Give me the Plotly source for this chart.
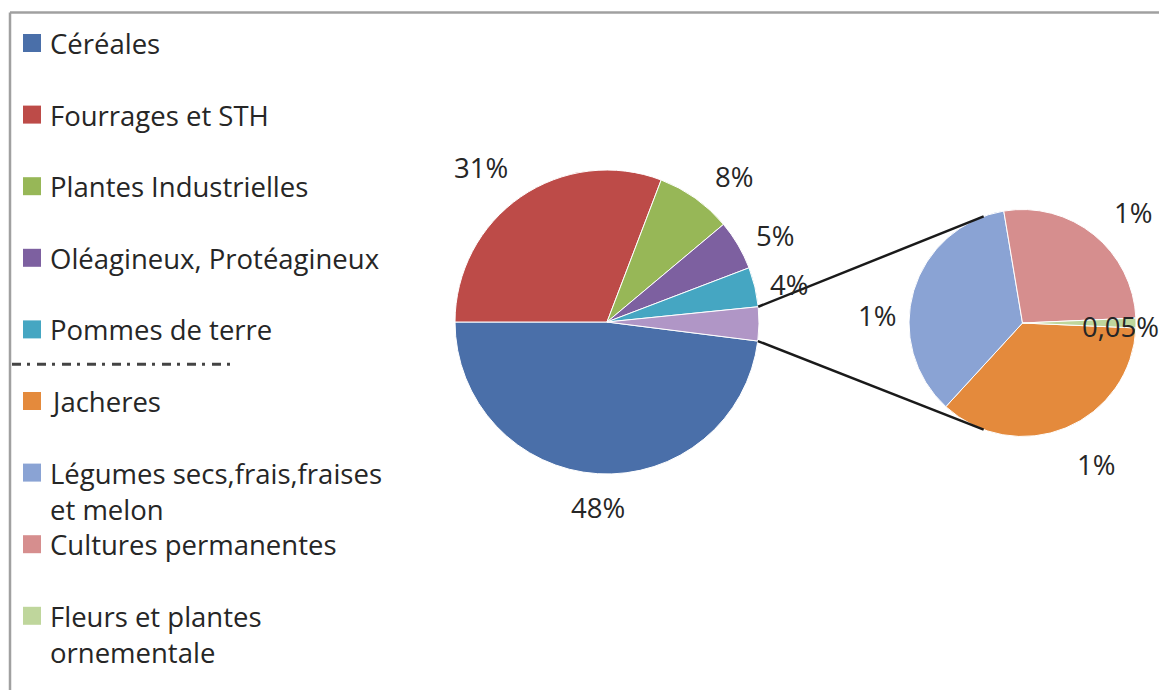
import math
import plotly.graph_objects as go

W, H = 1159, 690

# ---------------- data ----------------
main_labels = ["Céréales", "Fourrages et STH", "Plantes Industrielles",
               "Oléagineux, Protéagineux", "Pommes de terre"]
main_values = [48.0, 30.8, 8.1, 5.3, 4.2]
main_text = ["48%", "31%", "8%", "5%", "4%"]

sub_labels = ["Jacheres", "Légumes secs,frais,fraises<br>et melon",
              "Cultures permanentes", "Fleurs et plantes<br>ornementale"]
sub_values = [1.30, 1.28, 0.97, 0.05]
sub_text = ["1%", "1%", "1%", "0,05%"]
other_label = "Autres"

# ---------------- styles ----------------
main_colors = ["#4a6fa9", "#bd4b48", "#97b757", "#7d60a0", "#45a6c2"]
other_color = "#b096c6"
sub_colors = ["#e48a3c", "#8aa3d4", "#d68e8e", "#bfd69c"]

FONT = "Open Sans"
FS = 27.5
TXT = "#262626"

MAIN_C, MAIN_R = (607.0, 322.0), 152.0
SUB_C, SUB_R = (1022.5, 323.0), 113.5

# label placement: radial factor of text centre and angular nudge (deg, clockwise)
main_lab_f = [1.22, 1.31, 1.27, 1.24, 1.22]
main_lab_d = [-0.8, -4.7, 5.5, 3.2, 1.5]
sub_lab_f = [1.41, 1.28, 1.38, 0.86]
sub_lab_d = [-5.0, -13.7, 6.0, 2.2]
CONN_ANGLE = 110  # where connector lines touch the second pie (deg from +x)

LEG_Y0, LEG_DY = 42.0, 71.6


def px(x):
    return x / W


def py(y):
    return 1 - y / H


def domain(c, r):
    return dict(x=[px(c[0] - r), px(c[0] + r)], y=[py(c[1] + r), py(c[1] - r)])


def pt(c, r, theta):
    t = math.radians(theta)
    return c[0] + r * math.sin(t), c[1] - r * math.cos(t)


main_all_values = main_values + [sum(sub_values)]
main_total = sum(main_all_values)
sub_total = sum(sub_values)

# first slice (Céréales) ends at 9 o'clock, drawn clockwise
main_rot = 270 - 360 * main_values[0] / main_total
# last slice of the sub pie (Fleurs) centred at 3 o'clock
sub_rot = 90 + 180 * sub_values[-1] / sub_total

fig = go.Figure()
fig.add_trace(go.Pie(
    labels=main_labels + [other_label], values=main_all_values,
    sort=False, direction="clockwise", rotation=main_rot,
    marker=dict(colors=main_colors + [other_color], line=dict(color="white", width=1)),
    textinfo="none", hoverinfo="label+percent", showlegend=False,
    domain=domain(MAIN_C, MAIN_R),
))
fig.add_trace(go.Pie(
    labels=[l.replace("<br>", " ") for l in sub_labels], values=sub_values,
    sort=False, direction="clockwise", rotation=sub_rot,
    marker=dict(colors=sub_colors, line=dict(color="white", width=1)),
    textinfo="none", hoverinfo="label+percent", showlegend=False,
    domain=domain(SUB_C, SUB_R),
))

annotations = []
shapes = []


def mids(values, rot):
    tot = sum(values)
    out, cum = [], 0.0
    for v in values:
        out.append(rot + 360 * (cum + v / 2) / tot)
        cum += v
    return out


# data labels
for t, m, f, d in zip(main_text, mids(main_all_values, main_rot), main_lab_f, main_lab_d):
    x, y = pt(MAIN_C, MAIN_R * f, m + d)
    annotations.append(dict(x=px(x), y=py(y), xref="paper", yref="paper", text=t,
                            showarrow=False, xanchor="center", yanchor="middle",
                            font=dict(family=FONT, size=FS, color=TXT)))
for t, m, f, d in zip(sub_text, mids(sub_values, sub_rot), sub_lab_f, sub_lab_d):
    x, y = pt(SUB_C, SUB_R * f, m + d)
    annotations.append(dict(x=px(x), y=py(y), xref="paper", yref="paper", text=t,
                            showarrow=False, xanchor="center", yanchor="middle",
                            font=dict(family=FONT, size=FS, color=TXT)))

# connector lines from the "other" slice to the second pie
oth_end = main_rot + 360
oth_start = oth_end - 360 * main_all_values[-1] / main_total
a1 = pt(MAIN_C, MAIN_R, oth_start)
a2 = pt(MAIN_C, MAIN_R, oth_end)
b1 = pt(SUB_C, SUB_R, 90 - CONN_ANGLE)
b2 = pt(SUB_C, SUB_R, 90 + CONN_ANGLE)
for a, b in ((a1, b1), (a2, b2)):
    shapes.append(dict(type="line", xref="paper", yref="paper",
                       x0=px(a[0]), y0=py(a[1]), x1=px(b[0]), y1=py(b[1]),
                       line=dict(color="#1a1a1a", width=2.5)))

# frame (top and left border)
shapes.append(dict(type="line", xref="paper", yref="paper", x0=px(10), y0=py(12.5),
                   x1=1, y1=py(12.5), line=dict(color="#a0a0a0", width=2.5)))
shapes.append(dict(type="line", xref="paper", yref="paper", x0=px(10), y0=py(12.5),
                   x1=px(10), y1=0, line=dict(color="#a0a0a0", width=2.5)))

# manual legend
leg_labels = main_labels + sub_labels
leg_colors = main_colors + sub_colors
for i, (lab, col) in enumerate(zip(leg_labels, leg_colors)):
    yc = LEG_Y0 + i * LEG_DY
    shapes.append(dict(type="rect", xref="paper", yref="paper",
                       x0=px(23), x1=px(41), y0=py(yc - 8), y1=py(yc + 10),
                       fillcolor=col, line=dict(width=0)))
    annotations.append(dict(x=px(48), y=py(yc - 19), xref="paper", yref="paper",
                            text=lab, showarrow=False, xanchor="left", yanchor="top",
                            align="left", font=dict(family=FONT, size=FS, color=TXT)))

# dash-dot separator between the two groups
sep_y = LEG_Y0 + 4.5 * LEG_DY
shapes.append(dict(type="line", xref="paper", yref="paper", x0=px(12), x1=px(230),
                   y0=py(sep_y), y1=py(sep_y),
                   line=dict(color="#444444", width=3, dash="9px,6px,3px,7px")))

fig.update_layout(
    width=W, height=H, margin=dict(l=0, r=0, t=0, b=0),
    paper_bgcolor="white", plot_bgcolor="white",
    annotations=annotations, shapes=shapes, showlegend=False,
    font=dict(family=FONT),
)
fig.write_html("out.html", config={"displayModeBar": False},
               post_script="document.body.style.margin='0';document.body.style.overflow='hidden';")
